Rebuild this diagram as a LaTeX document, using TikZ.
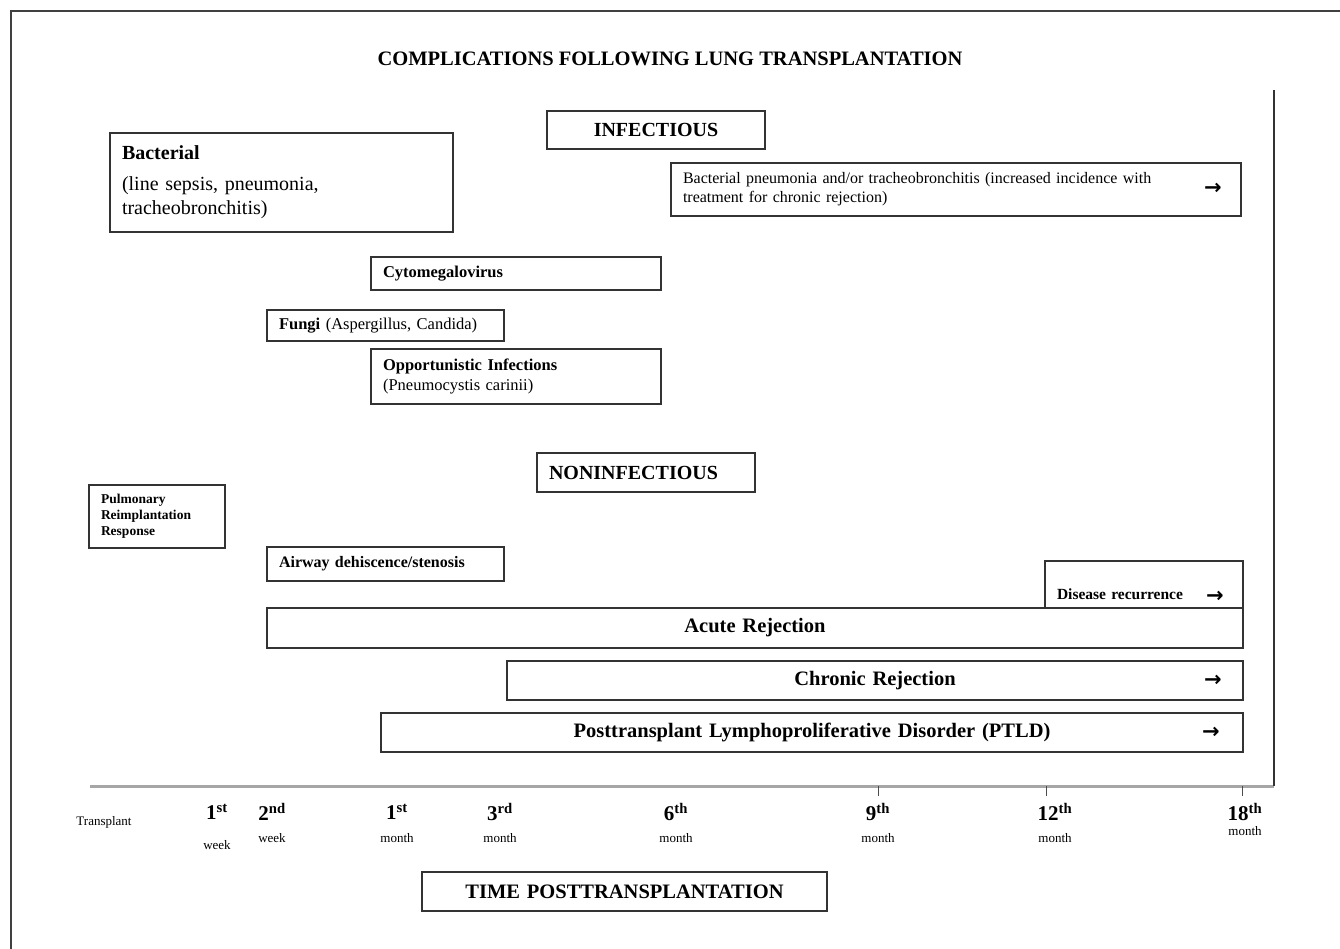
\documentclass[tikz,border=0pt]{standalone}
\usepackage{fontspec}
\setmainfont{Liberation Serif}
\newfontfamily\arrowfont{DejaVu Sans}
\usepackage{tikz}
\usetikzlibrary{positioning}

\newcommand\fs[1]{\fontsize{#1}{1.2\dimexpr#1pt\relax}\selectfont}

\begin{document}
\begin{tikzpicture}[x=1pt, y=-1pt,
    cbox/.style={draw=black!80, line width=1.5pt, rectangle, anchor=north west,
        outer sep=0pt, inner xsep=12pt, inner ysep=0pt, align=left},
    hbox/.style={cbox, align=center, font=\bfseries\fs{20}},
    bar/.style={cbox, align=center, font=\bfseries\fs{20.5}},
    more/.style={font=\arrowfont\bfseries\fs{21}, inner sep=0pt},
    tick/.style={line width=1pt, black!70},
    numlab/.style={font=\bfseries\fs{21}, inner sep=0pt},
    unitlab/.style={font=\fs{13}, inner sep=0pt}]
    \useasboundingbox (0,0) rectangle (1340,949);
    \draw[line width=1.6pt, black!75] (11,949) -- (11,11) -- (1340,11);
    \node[font=\bfseries\fs{20.5}] (title) at (670,59) {COMPLICATIONS FOLLOWING LUNG TRANSPLANTATION};

    \node[hbox, minimum height=38pt, text width=194pt] (infect) at (547,111) {INFECTIOUS};
    \node[cbox, minimum height=99pt, text width=319pt, font=\fs{20}] (bact) at (110,133)
        {\textbf{Bacterial}\\[7pt](line sepsis, pneumonia,\\tracheobronchitis)};
    \node[cbox, minimum height=53pt, text width=546pt, font=\fs{16}] (bpneu) at (671,163)
        {Bacterial pneumonia and/or tracheobronchitis (increased incidence with\\treatment for chronic rejection)};
    \node[more] (bpneuarr) at ([xshift=-28pt, yshift=1pt]bpneu.east) {→};
    \node[cbox, minimum height=33pt, text width=266pt, font=\bfseries\fs{16.5}] (cmv) at (371,257) {Cytomegalovirus};
    \node[cbox, minimum height=31pt, text width=213pt, font=\fs{16.5}] (fungi) at (267,310)
        {\textbf{Fungi} (Aspergillus, Candida)};
    \node[cbox, minimum height=55pt, text width=266pt, font=\fs{16.5}] (opp) at (371,349)
        {\textbf{Opportunistic Infections}\\(Pneumocystis carinii)};

    \node[hbox, align=left, minimum height=39pt, text width=194pt] (noninf) at (537,453) {NONINFECTIOUS};
    \node[cbox, minimum height=63pt, text width=112pt, font=\bfseries\fs{13.5}] (pulm) at (89,485)
        {Pulmonary\\Reimplantation\\Response};
    \node[cbox, minimum height=34pt, text width=213pt, font=\bfseries\fs{16}] (airway) at (267,547)
        {Airway dehiscence/stenosis};
    \node[cbox, text height=38pt, text depth=9pt, text width=174pt, font=\bfseries\fs{15.5}] (disease) at (1045,561)
        {Disease recurrence};
    \node[more] (diseasearr) at ([xshift=-28pt, yshift=-12pt]disease.east) {→};
    \node[bar, minimum height=40pt, text width=952pt] (acute) at (267,608) {Acute Rejection};
    \node[bar, minimum height=39pt, text width=712pt] (chronic) at (507,661) {Chronic Rejection};
    \node[more] (chronicarr) at ([xshift=-30pt]chronic.east) {→};
    \node[bar, minimum height=39pt, text width=838pt] (ptld) at (381,713)
        {Posttransplant Lymphoproliferative Disorder (PTLD)};
    \node[more] (ptldarr) at ([xshift=-32pt]ptld.east) {→};

    \coordinate (axl) at (90,786);
    \coordinate (axr) at (1274,786);
    \coordinate (axt) at (1274,90);
    \draw[line width=3pt, black!35] (axl) -- (axr);
    \draw[line width=1.5pt, black!80] (axr) -- (axt);
    \foreach \x in {878,1046,1242}
        \draw[tick] (\x,786) -- (\x,796);

    \node[unitlab] (transplant) at (104,822) {Transplant};
    \foreach \x/\n/\s/\u/\uy in {217/1/st/week/845, 272/2/nd/week/838, 397/1/st/month/838,
            500/3/rd/month/838, 676/6/th/month/838, 878/9/th/month/838,
            1055/12/th/month/838, 1245/18/th/month/831}{
        \node[numlab] (num\x) at (\x,812) {\n\textsuperscript{\s}};
        \node[unitlab] (unit\x) at (\x,\uy) {\u};
    }

    \node[hbox, font=\bfseries\fs{20.5}, minimum height=39pt, text width=381pt] (time) at (422,872) {TIME POSTTRANSPLANTATION};
\end{tikzpicture}
\end{document}
